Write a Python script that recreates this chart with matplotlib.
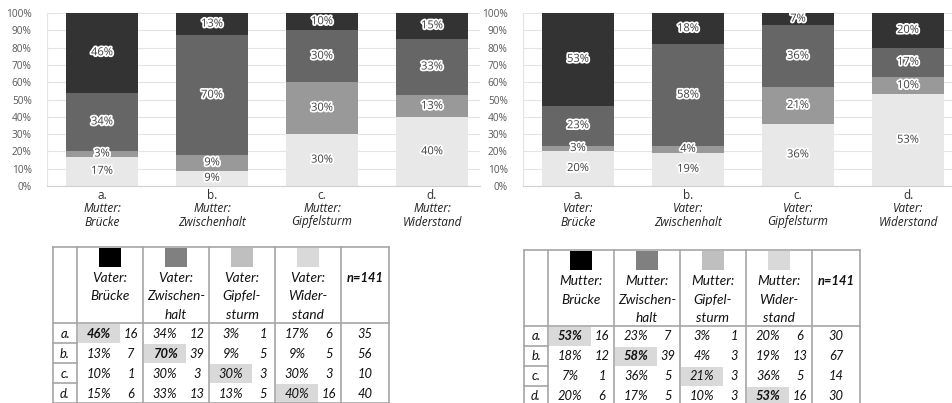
import numpy as np
import matplotlib.pyplot as plt
import matplotlib.patheffects as pe
from matplotlib.transforms import blended_transform_factory

letters = ["a.", "b.", "c.", "d."]
stages = ["Brücke", "Zwischenhalt", "Gipfelsturm", "Widerstand"]
stages_split = [["Brücke"], ["Zwischen-", "halt"], ["Gipfel-", "sturm"], ["Wider-", "stand"]]

# rows a-d, columns Brücke, Zwischenhalt, Gipfelsturm, Widerstand
vater_pct = [[46, 34, 3, 17], [13, 70, 9, 9], [10, 30, 30, 30], [15, 33, 13, 40]]
vater_cnt = [[16, 12, 1, 6], [7, 39, 5, 5], [1, 3, 3, 3], [6, 13, 5, 16]]
vater_n = [35, 56, 10, 40]

mutter_pct = [[53, 23, 3, 20], [18, 58, 4, 19], [7, 36, 21, 36], [20, 17, 10, 53]]
mutter_cnt = [[16, 7, 1, 6], [12, 39, 3, 13], [1, 5, 3, 5], [6, 5, 3, 16]]
mutter_n = [30, 67, 14, 30]
n_total = 141

bar_colors = ["#333333", "#666666", "#999999", "#e8e8e8"]
key_colors = ["#000000", "#808080", "#bfbfbf", "#d9d9d9"]
bold_left = [True, True, False, False]
bold_right = [True, True, False, True]

chart_font = "Open Sans"
table_font = "Lato"

W, H = 952, 403
fig = plt.figure(figsize=(W / 100, H / 100), dpi=100)


def draw_chart(ax, pct, who):
    p = np.array(pct, float)
    p = p / p.sum(axis=1, keepdims=True) * 100
    x = np.arange(len(letters))
    bottom = np.zeros(len(letters))
    for j in [3, 2, 1, 0]:
        ax.bar(x, p[:, j], 0.655, bottom=bottom, color=bar_colors[j], zorder=2)
        for i in range(len(x)):
            ax.text(x[i], bottom[i] + p[i, j] / 2, f"{pct[i][j]}%", ha="center", va="center",
                    fontsize=8, color="#404040", family=chart_font, zorder=3,
                    path_effects=[pe.withStroke(linewidth=2.6, foreground="white")])
        bottom += p[:, j]
    ax.set_ylim(0, 100)
    ax.set_yticks(np.arange(0, 101, 10))
    ax.set_yticklabels([f"{v}%" for v in range(0, 101, 10)], fontsize=7.3,
                       color="#595959", family=chart_font)
    ax.tick_params(axis="y", length=0, pad=11)
    ax.tick_params(axis="x", length=0, pad=2)
    ax.set_xticks(x)
    ax.set_xticklabels(letters, fontsize=8.5, color="#303030", family=chart_font)
    ax.grid(axis="y", color="#e4e4e4", lw=0.8, zorder=0)
    ax.set_axisbelow(True)
    for s in ["top", "right"]:
        ax.spines[s].set_visible(False)
    ax.spines["left"].set_color("#e4e4e4")
    ax.spines["bottom"].set_color("#d0d0d0")
    tr = blended_transform_factory(ax.transData, ax.transAxes)
    for i in range(len(x)):
        ax.text(x[i], -23 / 173, who + ":", transform=tr, ha="center", va="center",
                fontsize=8.5, style="italic", color="#202020", family=chart_font)
        ax.text(x[i], -36 / 173, stages[i], transform=tr, ha="center", va="center",
                fontsize=8.5, style="italic", color="#202020", family=chart_font)


def draw_table(ax, x0, y0, pct, cnt, n, who, bold):
    cols = [0, 24, 90, 156, 222, 288, 336]
    hh, rh = 76, 20
    lc, lw = "#a6a6a6", 1.2
    y_end = y0 + hh + rh * len(letters)
    # shading of the diagonal cells
    for i in range(len(letters)):
        gl = x0 + cols[i + 1]
        ax.add_patch(plt.Rectangle((gl + 1, y0 + hh + rh * i + 1), 42, rh - 1,
                                   color="#d9d9d9", lw=0, zorder=1))
    # grid lines
    ax.plot([x0, x0 + cols[-1]], [y0, y0], color=lc, lw=lw, zorder=2)
    ax.plot([x0, x0 + cols[-1]], [y0 + hh, y0 + hh], color=lc, lw=lw, zorder=2)
    ax.plot([x0, x0 + cols[-1]], [y_end, y_end], color=lc, lw=lw, zorder=2)
    for c in cols:
        ax.plot([x0 + c, x0 + c], [y0, y_end], color=lc, lw=lw, zorder=2)
    for i in range(1, len(letters)):
        yy = y0 + hh + rh * i
        ax.plot([x0, x0 + cols[1]], [yy, yy], color=lc, lw=lw, zorder=2)
    # header
    for j in range(4):
        gl, gr = x0 + cols[j + 1], x0 + cols[j + 2]
        cx = (gl + gr) / 2
        ax.add_patch(plt.Rectangle((cx - 11, y0 + 1), 22, 19, color=key_colors[j], lw=0, zorder=3))
        lines = [who + ":"] + stages_split[j]
        for k, t in enumerate(lines):
            ax.text(cx, y0 + 31 + 18.5 * k, t, ha="center", va="center", fontsize=9.8,
                    style="italic", color="#111111", family=table_font, zorder=4)
    ncx = x0 + (cols[5] + cols[6]) / 2
    ax.text(ncx, y0 + 31, f"n={n_total}", ha="center", va="center", fontsize=9.3,
            style="italic", weight="bold", color="#111111", family=table_font, zorder=4)
    # body
    for i in range(len(letters)):
        cy = y0 + hh + rh * i + 10.5
        ax.text(x0 + cols[1] / 2, cy, letters[i], ha="center", va="center", fontsize=9.3,
                style="italic", color="#111111", family=table_font, zorder=4)
        for j in range(4):
            gl = x0 + cols[j + 1]
            w = "bold" if (i == j and bold[i]) else "normal"
            ax.text(gl + 22, cy, f"{pct[i][j]}%", ha="center", va="center", fontsize=9.3,
                    style="italic", weight=w, color="#111111", family=table_font, zorder=4)
            ax.text(gl + 54, cy, f"{cnt[i][j]}", ha="center", va="center", fontsize=9.3,
                    style="italic", color="#111111", family=table_font, zorder=4)
        ax.text(ncx, cy, f"{n[i]}", ha="center", va="center", fontsize=9.3,
                style="italic", color="#111111", family=table_font, zorder=4)


tax = fig.add_axes([0, 0, 1, 1])
tax.set_xlim(0, W)
tax.set_ylim(H, 0)
tax.axis("off")
draw_table(tax, 53, 247, vater_pct, vater_cnt, vater_n, "Vater", bold_left)
draw_table(tax, 524, 250, mutter_pct, mutter_cnt, mutter_n, "Mutter", bold_right)

bot, ht = (H - 186) / H, 173 / H
ax1 = fig.add_axes([47 / W, bot, (480 - 47) / W, ht])
ax1.set_xlim(-0.5, -0.5 + (480 - 47) / 110)
draw_chart(ax1, vater_pct, "Mutter")

ax2 = fig.add_axes([523 / W, bot, (W - 523) / W, ht])
ax2.set_xlim(-0.5, -0.5 + (W - 523) / 110)
draw_chart(ax2, mutter_pct, "Vater")

fig.savefig("out.png", dpi=100)
